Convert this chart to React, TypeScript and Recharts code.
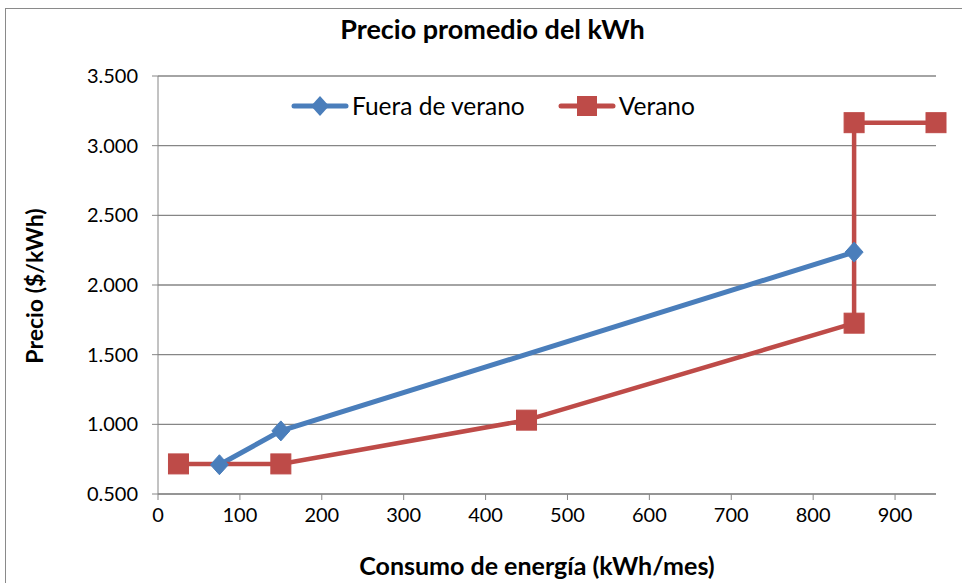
import React from 'react';
import { LineChart, Line, XAxis, YAxis, CartesianGrid } from 'recharts';

const fueraX = [75, 150, 850];
const fueraY = [0.71, 0.953, 2.236];
const veranoX = [25, 150, 450, 850, 850, 950];
const veranoY = [0.716, 0.716, 1.03, 1.726, 3.165, 3.165];
const xTicks = [0, 100, 200, 300, 400, 500, 600, 700, 800, 900];
const yTicks = [0.5, 1.0, 1.5, 2.0, 2.5, 3.0, 3.5];
const seriesNames = ['Fuera de verano', 'Verano'];
const titleText = 'Precio promedio del kWh';
const xLabel = 'Consumo de energía (kWh/mes)';
const yLabel = 'Precio ($/kWh)';

const BLUE = '#4A7EBB';
const RED = '#BE4B48';
const GRID = '#868686';
const FONT = 'Lato, "Open Sans", sans-serif';

const fueraData = fueraX.map((x, i) => ({ x, y: fueraY[i] }));
const veranoData = veranoX.map((x, i) => ({ x, y: veranoY[i] }));

const Diamond = (props: any) => {
  const { cx, cy, key } = props;
  if (cx == null || cy == null) return null;
  return (
    <path
      key={key}
      d={`M${cx},${cy - 10} L${cx + 9},${cy} L${cx},${cy + 10} L${cx - 9},${cy} Z`}
      fill={BLUE}
      stroke={BLUE}
    />
  );
};

const Square = (props: any) => {
  const { cx, cy, key } = props;
  if (cx == null || cy == null) return null;
  return <rect key={key} x={cx - 10} y={cy - 10} width={20} height={20} fill={RED} stroke={RED} />;
};

const LegendBox = () => (
  <div style={{ position: 'absolute', left: 291, top: 92, display: 'flex', alignItems: 'center', fontFamily: FONT, fontSize: 24.5, lineHeight: '28px', color: '#000' }}>
    <svg width={58} height={24}>
      <line x1={3} y1={12} x2={55} y2={12} stroke={BLUE} strokeWidth={5} strokeLinecap="round" />
      <path d="M29,2 L38,12 L29,22 L20,12 Z" fill={BLUE} />
    </svg>
    <span style={{ marginLeft: 3, marginRight: 33 }}>{seriesNames[0]}</span>
    <svg width={58} height={24}>
      <line x1={3} y1={12} x2={55} y2={12} stroke={RED} strokeWidth={5} strokeLinecap="round" />
      <rect x={19} y={2} width={20} height={20} fill={RED} />
    </svg>
    <span style={{ marginLeft: 3 }}>{seriesNames[1]}</span>
  </div>
);

export default function App() {
  return (
    <div style={{ position: 'fixed', left: 0, top: 0, width: 962, height: 583, overflow: 'hidden', background: '#fff' }}>
      <div style={{ position: 'absolute', left: 5, top: 8, width: 1000, height: 700, border: '1px solid #8a8a8a', boxSizing: 'border-box' }} />
      <div style={{ position: 'absolute', left: 0, top: 12, width: 985, textAlign: 'center', fontFamily: FONT, fontWeight: 700, fontSize: 27, lineHeight: '34px', color: '#000' }}>
        {titleText}
      </div>
      <div style={{ position: 'absolute', left: 137, top: 550, width: 800, textAlign: 'center', fontFamily: FONT, fontWeight: 700, fontSize: 25, lineHeight: '30px', color: '#000' }}>
        {xLabel}
      </div>
      <div style={{ position: 'absolute', left: 34, top: 286, width: 0, height: 0 }}>
        <div style={{ position: 'absolute', transform: 'translate(-50%, -50%) rotate(-90deg)', whiteSpace: 'nowrap', fontFamily: FONT, fontWeight: 700, fontSize: 23, color: '#000' }}>
          {yLabel}
        </div>
      </div>
      <div style={{ position: 'absolute', left: 0, top: 0 }}>
        <LineChart width={962} height={583} margin={{ top: 76, right: 26, bottom: 59, left: 70 }}>
          <CartesianGrid vertical={false} stroke={GRID} strokeWidth={1.3} />
          <XAxis
            dataKey="x"
            type="number"
            domain={[0, 950]}
            ticks={xTicks}
            height={30}
            stroke={GRID}
            tickLine={{ stroke: GRID }}
            tickSize={6}
            tickMargin={8}
            tick={{ fill: '#000', fontFamily: FONT, fontSize: 20 }}
            allowDuplicatedCategory={false}
          />
          <YAxis
            dataKey="y"
            type="number"
            domain={[0.5, 3.5]}
            ticks={yTicks}
            width={88}
            stroke={GRID}
            tickLine={{ stroke: GRID }}
            tickSize={6}
            tickMargin={14}
            tickFormatter={(v: number) => v.toFixed(3)}
            tick={{ fill: '#000', fontFamily: FONT, fontSize: 20 }}
          />
          <Line
            data={fueraData}
            dataKey="y"
            name={seriesNames[0]}
            stroke={BLUE}
            strokeWidth={5}
            dot={<Diamond />}
            activeDot={false}
            isAnimationActive={false}
          />
          <Line
            data={veranoData}
            dataKey="y"
            name={seriesNames[1]}
            stroke={RED}
            strokeWidth={4.5}
            dot={<Square />}
            activeDot={false}
            isAnimationActive={false}
          />
        </LineChart>
      </div>
      <LegendBox />
    </div>
  );
}
